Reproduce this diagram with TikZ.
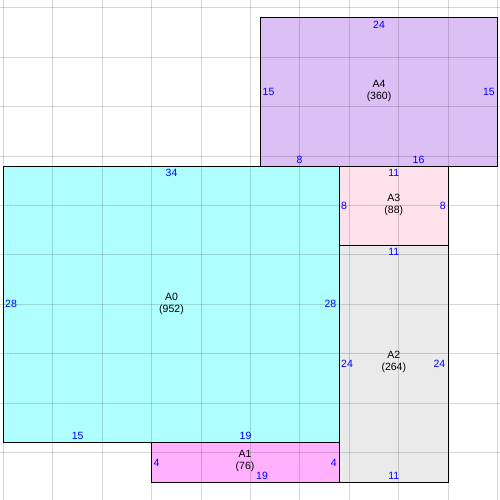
\documentclass[tikz,border=0pt]{standalone}
\usepackage{fontspec}
\setmainfont{Liberation Sans}
\definecolor{cA0}{RGB}{175,255,255}
\definecolor{cA1}{RGB}{255,176,255}
\definecolor{cA2}{RGB}{234,234,234}
\definecolor{cA3}{RGB}{255,225,236}
\definecolor{cA4}{RGB}{219,191,245}
\definecolor{lblblue}{RGB}{0,0,255}
\tikzset{
  lbl/.style={text=lblblue, inner sep=0pt, font=\fontsize{10.5}{12}\selectfont},
  nm/.style={text=black, inner sep=0pt, align=center, font=\fontsize{10.5}{12}\selectfont},
  gridln/.style={draw=black, draw opacity=0.16, line width=0.9pt},
  border/.style={draw=black, line width=1pt}
}
\begin{document}
\begin{tikzpicture}[x=1pt,y=-1pt]
\useasboundingbox (0,0) rectangle (500,500);
\fill[white] (0,0) rectangle (500,500);
% fills
\fill[cA0] (3.5,166) rectangle (339.4,442.6);
\fill[cA1] (151.7,442.6) rectangle (339.4,482.2);
\fill[cA2] (339.4,245) rectangle (448.1,482.2);
\fill[cA3] (339.4,166) rectangle (448.1,245);
\fill[cA4] (260.4,17.8) rectangle (497.5,166);
% grid
\foreach \k in {0,...,10} {
  \draw[gridln] ({3.5+49.4*\k},0) -- ({3.5+49.4*\k},500);
}
\foreach \k in {0,...,9} {
  \draw[gridln] (0,{7.9+49.4*\k}) -- (500,{7.9+49.4*\k});
}
% borders
\draw[border] (3.5,166) rectangle (339.4,442.6);
\draw[border] (151.7,442.6) rectangle (339.4,482.2);
\draw[border] (339.4,245) rectangle (448.1,482.2);
\draw[border] (339.4,166) rectangle (448.1,245);
\draw[border] (260.4,17.8) rectangle (497.5,166);
% A0
\node[nm] (nA0) at (171.5,304.3) {A0\\(952)};
\node[lbl] (a0t) at (171.5,173) {34};
\node[lbl,anchor=west] (a0l) at (5,304.3) {28};
\node[lbl,anchor=east] (a0r) at (336.5,304.3) {28};
\node[lbl] (a0b1) at (77.6,435.5) {15};
\node[lbl] (a0b2) at (245.5,435.5) {19};
% A1
\node[nm] (nA1) at (245,461) {A1\\(76)};
\node[lbl,anchor=west] (a1l) at (153.5,463) {4};
\node[lbl,anchor=east] (a1r) at (337,463) {4};
\node[lbl] (a1b) at (262,476) {19};
% A2
\node[nm] (nA2) at (393.8,362) {A2\\(264)};
\node[lbl] (a2t) at (393.8,252) {11};
\node[lbl,anchor=west] (a2l) at (341,364) {24};
\node[lbl,anchor=east] (a2r) at (445.5,364) {24};
\node[lbl] (a2b) at (393.8,476) {11};
% A3
\node[nm] (nA3) at (393.8,204.5) {A3\\(88)};
\node[lbl] (a3t) at (393.8,173) {11};
\node[lbl,anchor=west] (a3l) at (341,206) {8};
\node[lbl,anchor=east] (a3r) at (446,206) {8};
% A4
\node[nm] (nA4) at (379,91) {A4\\(360)};
\node[lbl] (a4t) at (379,25) {24};
\node[lbl,anchor=west] (a4l) at (262.5,92) {15};
\node[lbl,anchor=east] (a4r) at (495,92) {15};
\node[lbl] (a4b1) at (299.5,159.5) {8};
\node[lbl] (a4b2) at (418.5,159.5) {16};
\end{tikzpicture}
\end{document}
